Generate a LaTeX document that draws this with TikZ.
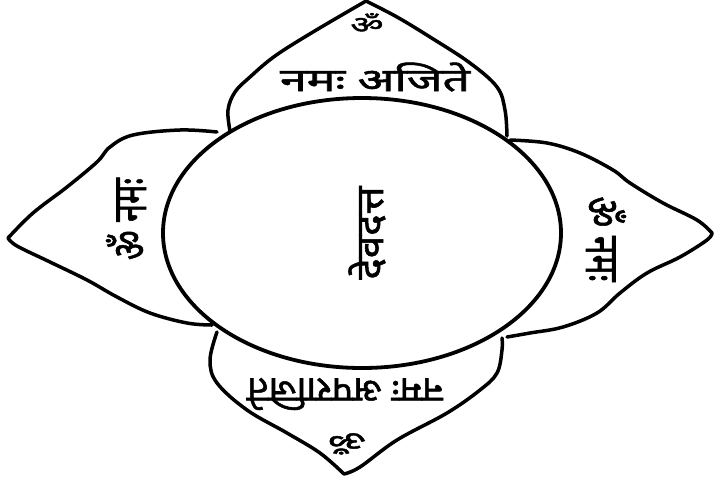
\documentclass[tikz,border=0pt]{standalone}
\usepackage{fontspec}
\newfontfamily\deva[Script=Devanagari,FakeBold=1.5]{Noto Sans}
\begin{document}
\begin{tikzpicture}[x=1pt,y=-1pt,
  ink/.style={draw=black,line width=3.5pt,line cap=round,line join=round},
  txt/.style={inner sep=0pt,font=\deva}]
\useasboundingbox (0,0) rectangle (715,480);
% central ellipse
\draw[ink,line width=3.8pt] (362,233) ellipse [x radius=199,y radius=135];
% top petal
\draw[ink] plot[smooth,tension=0.6] coordinates {(230,131) (228,110) (235,92) (250,77) (275,56) (313,32) (366,1)}
  -- plot[smooth,tension=0.6] coordinates {(366,1) (397,17) (430,37) (470,63) (497,87) (505,110) (507,136)};
% left petal
\draw[ink] plot[smooth,tension=0.6] coordinates {(217,132) (180,130) (133,135) (110,147) (97,162) (67,187) (33,213) (8,238)}
  -- plot[smooth,tension=0.6] coordinates {(8,238) (17,246) (50,262) (87,280) (117,297) (150,313) (187,323) (212,325)};
% right petal
\draw[ink] plot[smooth,tension=0.6] coordinates {(510,140) (547,143) (580,153) (613,170) (630,183) (663,203) (697,220) (712,233)}
  -- plot[smooth,tension=0.6] coordinates {(712,233) (707,240) (680,257) (647,273) (620,293) (597,313) (563,327) (530,333) (507,337)};
% bottom petal
\draw[ink] plot[smooth,tension=0.6] coordinates {(217,332) (210,360) (217,383) (247,410) (287,433) (320,453) (344,474)}
  -- plot[smooth,tension=0.6] coordinates {(344,474) (360,467) (397,440) (447,413) (480,390) (497,373) (502,350) (502,338)};
% texts
\node[txt] (omtop) at (367,23) {\resizebox*{33pt}{20pt}{ॐ}};
\node[txt] (top) at (375,77) {\resizebox*{190pt}{29pt}{नमः अजिते}};
\node[txt,rotate=90] (center) at (367,233) {\resizebox*{93pt}{37pt}{देवदत्त}};
\node[txt,rotate=90] (left) at (126,219) {\resizebox*{82pt}{40pt}{ॐ नमः}};
\node[txt,rotate=-90] (right) at (606,239) {\resizebox*{85pt}{40pt}{ॐ नमः}};
\node[txt,rotate=180] (bottom) at (345,394) {\resizebox*{196pt}{32pt}{नमः अपराजिते}};
\node[txt,rotate=180] (ombot) at (347,443) {\resizebox*{38pt}{23pt}{ॐ}};
\end{tikzpicture}
\end{document}
